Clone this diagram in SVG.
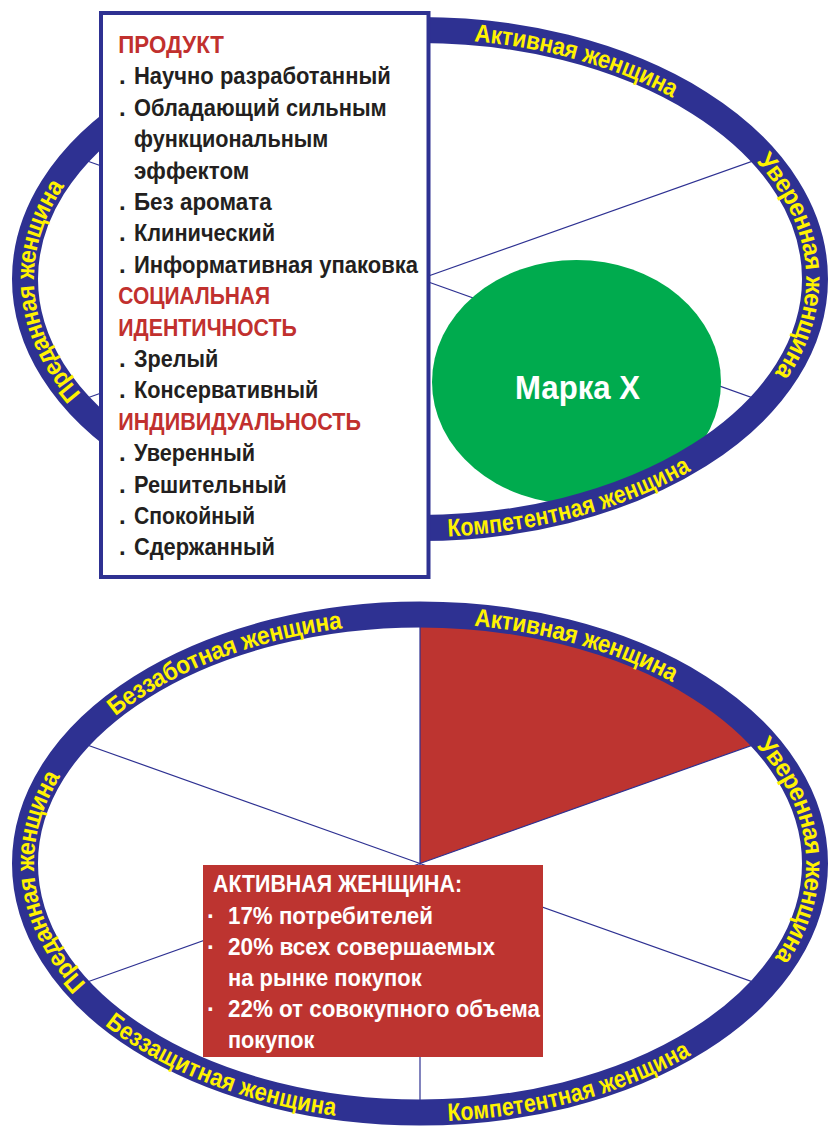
<svg xmlns="http://www.w3.org/2000/svg" width="831" height="1126" viewBox="0 0 831 1126">
<style>
.ring{fill:none;stroke:#2e3192;stroke-width:26}
.spoke{stroke:#2e3192;stroke-width:1.2;fill:none}
.rl{font-family:"Liberation Sans",Arial,sans-serif;font-weight:bold;font-size:25px;fill:#fff200;dominant-baseline:central}
.bt{font-family:"Liberation Sans",Arial,sans-serif;font-weight:bold;font-size:24px;fill:#231f20}
.hd{fill:#c1302e}
.wt{font-family:"Liberation Sans",Arial,sans-serif;font-weight:bold;font-size:24px;fill:#ffffff}
</style>
<defs>
<path id="t1" d="M475,32.4 A395,249 0 0 1 731.3,432.3"/>
<path id="t2" d="M763.1,155.6 A395,249 0 0 1 617.5,494.6"/>
<path id="t3" d="M447.6,527.4 A395,249 0 0 0 791.2,193.8"/>
<path id="t4" d="M74.5,399.7 A395,249 0 0 1 351.4,33.8"/>
<path id="b1" d="M110,709.2 A395,249 0 0 1 791.2,778.3"/>
<path id="b2" d="M475,616.9 A395,249 0 0 1 731.3,1016.8"/>
<path id="b3" d="M763.1,740.1 A395,249 0 0 1 617.5,1079.1"/>
<path id="b4" d="M447.6,1111.9 A395,249 0 0 0 791.2,778.3"/>
<path id="b5" d="M110,1017.8 A395,249 0 0 0 791.2,948.7"/>
<path id="b6" d="M79.7,989.9 A395,249 0 0 1 351.4,618.3"/>
</defs>
<rect width="831" height="1126" fill="#ffffff"/>

<!-- TOP DIAGRAM -->
<g id="top-connectors">
<line class="spoke" x1="420" y1="279" x2="764" y2="157"/>
<line class="spoke" x1="420" y1="279" x2="764" y2="402"/>
<line class="spoke" x1="420" y1="279" x2="76" y2="157"/>
<line class="spoke" x1="420" y1="279" x2="76" y2="402"/>
<line class="spoke" x1="420" y1="279" x2="420" y2="30"/>
<line class="spoke" x1="420" y1="279" x2="420" y2="528"/>
</g>
<g id="brand-x">
<ellipse cx="576.5" cy="382" rx="144.5" ry="122" fill="#00ab4e"/>
<text x="515" y="399" font-family="Liberation Sans, Arial, sans-serif" font-weight="bold" font-size="34" fill="#ffffff" textLength="125" lengthAdjust="spacingAndGlyphs">Марка Х</text>
</g>
<g id="top-ring">
<ellipse class="ring" cx="420" cy="279" rx="395" ry="249"/>
<text class="rl"><textPath href="#t1" textLength="211" lengthAdjust="spacingAndGlyphs">Активная женщина</textPath></text>
<text class="rl"><textPath href="#t2" textLength="243" lengthAdjust="spacingAndGlyphs">Уверенная женщина</textPath></text>
<text class="rl"><textPath href="#t3" textLength="250" lengthAdjust="spacingAndGlyphs">Компетентная женщина</textPath></text>
<text class="rl"><textPath href="#t4" textLength="238" lengthAdjust="spacingAndGlyphs">Преданная женщина</textPath></text>
</g>
<g id="product-box">
<rect x="101" y="13" width="327.5" height="564" fill="#ffffff" stroke="#2e3192" stroke-width="4"/>
<text class="bt hd" x="118.3" y="53" textLength="105.7" lengthAdjust="spacingAndGlyphs">ПРОДУКТ</text>
<text class="bt" x="119" y="84.4">.</text>
<text class="bt" x="134" y="84.4" textLength="256.7" lengthAdjust="spacingAndGlyphs">Научно разработанный</text>
<text class="bt" x="119" y="115.8">.</text>
<text class="bt" x="134" y="115.8" textLength="252.7" lengthAdjust="spacingAndGlyphs">Обладающий сильным</text>
<text class="bt" x="134" y="147.2" textLength="194.3" lengthAdjust="spacingAndGlyphs">функциональным</text>
<text class="bt" x="134" y="178.6" textLength="115.3" lengthAdjust="spacingAndGlyphs">эффектом</text>
<text class="bt" x="119" y="210">.</text>
<text class="bt" x="134" y="210" textLength="137.7" lengthAdjust="spacingAndGlyphs">Без аромата</text>
<text class="bt" x="119" y="241.4">.</text>
<text class="bt" x="134" y="241.4" textLength="141" lengthAdjust="spacingAndGlyphs">Клинический</text>
<text class="bt" x="119" y="272.8">.</text>
<text class="bt" x="134" y="272.8" textLength="284" lengthAdjust="spacingAndGlyphs">Информативная упаковка</text>
<text class="bt hd" x="118.3" y="304.2" textLength="151.7" lengthAdjust="spacingAndGlyphs">СОЦИАЛЬНАЯ</text>
<text class="bt hd" x="118.3" y="335.6" textLength="178.4" lengthAdjust="spacingAndGlyphs">ИДЕНТИЧНОСТЬ</text>
<text class="bt" x="119" y="367">.</text>
<text class="bt" x="134" y="367" textLength="84.3" lengthAdjust="spacingAndGlyphs">Зрелый</text>
<text class="bt" x="119" y="398.4">.</text>
<text class="bt" x="134" y="398.4" textLength="184.3" lengthAdjust="spacingAndGlyphs">Консервативный</text>
<text class="bt hd" x="118.3" y="429.8" textLength="242.7" lengthAdjust="spacingAndGlyphs">ИНДИВИДУАЛЬНОСТЬ</text>
<text class="bt" x="119" y="461.2">.</text>
<text class="bt" x="134" y="461.2" textLength="121" lengthAdjust="spacingAndGlyphs">Уверенный</text>
<text class="bt" x="119" y="492.6">.</text>
<text class="bt" x="134" y="492.6" textLength="152.7" lengthAdjust="spacingAndGlyphs">Решительный</text>
<text class="bt" x="119" y="524">.</text>
<text class="bt" x="134" y="524" textLength="121" lengthAdjust="spacingAndGlyphs">Спокойный</text>
<text class="bt" x="119" y="555.4">.</text>
<text class="bt" x="134" y="555.4" textLength="141" lengthAdjust="spacingAndGlyphs">Сдержанный</text>
</g>

<!-- BOTTOM DIAGRAM -->
<g id="active-segment">
<path d="M420,863.5 L420,614.5 A395,249 0 0 1 764,741 Z" fill="#bd3430"/>
</g>
<g id="bottom-connectors">
<line class="spoke" x1="420" y1="863.5" x2="764" y2="741"/>
<line class="spoke" x1="420" y1="863.5" x2="764" y2="986"/>
<line class="spoke" x1="420" y1="863.5" x2="76" y2="741"/>
<line class="spoke" x1="420" y1="863.5" x2="76" y2="986"/>
<line class="spoke" x1="420" y1="863.5" x2="420" y2="614.5"/>
<line class="spoke" x1="420" y1="863.5" x2="420" y2="1112.5"/>
</g>
<g id="bottom-ring">
<ellipse class="ring" cx="420" cy="863.5" rx="395" ry="249"/>
<text class="rl"><textPath href="#b1" textLength="251" lengthAdjust="spacingAndGlyphs">Беззаботная женщина</textPath></text>
<text class="rl"><textPath href="#b2" textLength="211" lengthAdjust="spacingAndGlyphs">Активная женщина</textPath></text>
<text class="rl"><textPath href="#b3" textLength="243" lengthAdjust="spacingAndGlyphs">Уверенная женщина</textPath></text>
<text class="rl"><textPath href="#b4" textLength="250" lengthAdjust="spacingAndGlyphs">Компетентная женщина</textPath></text>
<text class="rl"><textPath href="#b5" textLength="246" lengthAdjust="spacingAndGlyphs">Беззащитная женщина</textPath></text>
<text class="rl"><textPath href="#b6" textLength="238" lengthAdjust="spacingAndGlyphs">Преданная женщина</textPath></text>
</g>
<g id="active-woman-box">
<rect x="203" y="865" width="340" height="192" fill="#bd3430"/>
<text class="wt" x="213" y="892" textLength="249" lengthAdjust="spacingAndGlyphs">АКТИВНАЯ ЖЕНЩИНА:</text>
<text class="wt" x="207" y="924">·</text>
<text class="wt" x="228" y="924" textLength="205" lengthAdjust="spacingAndGlyphs">17% потребителей</text>
<text class="wt" x="207" y="955">·</text>
<text class="wt" x="228" y="955" textLength="267" lengthAdjust="spacingAndGlyphs">20% всех совершаемых</text>
<text class="wt" x="228" y="986" textLength="193.7" lengthAdjust="spacingAndGlyphs">на рынке покупок</text>
<text class="wt" x="207" y="1017">·</text>
<text class="wt" x="228" y="1017" textLength="312" lengthAdjust="spacingAndGlyphs">22% от совокупного объема</text>
<text class="wt" x="228" y="1048" textLength="86.3" lengthAdjust="spacingAndGlyphs">покупок</text>
</g>
</svg>
